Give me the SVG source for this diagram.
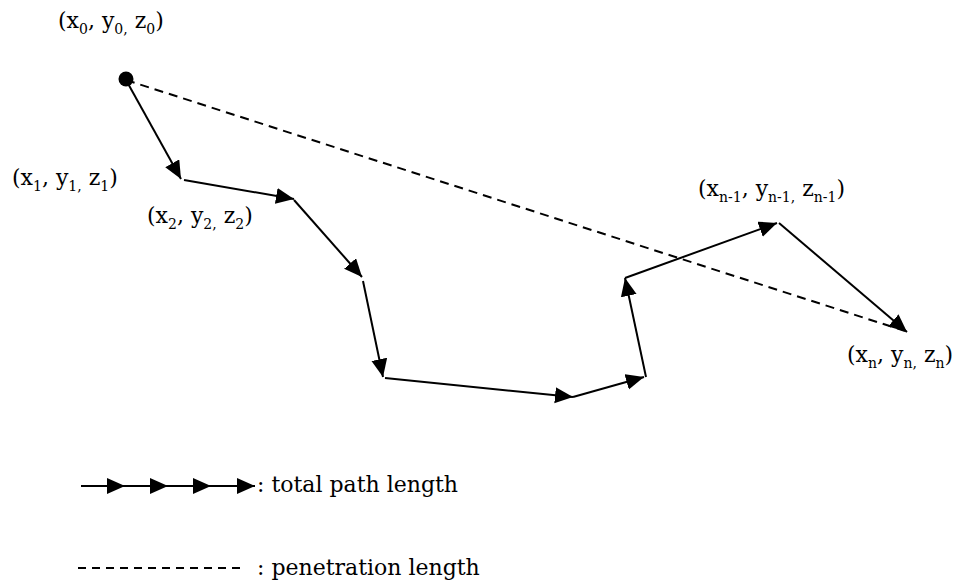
<svg xmlns="http://www.w3.org/2000/svg" width="957" height="585" viewBox="0 0 957 585">
<style>
.lbl{font-family:"DejaVu Serif","Liberation Serif",serif;font-size:22px;fill:#000}
.sub{font-size:14px}
.leg{font-family:"DejaVu Serif","Liberation Serif",serif;font-size:22px;fill:#000}
.seg{stroke:#000;stroke-width:2;fill:none;marker-end:url(#ah)}
.dash{stroke:#000;stroke-width:2;fill:none;stroke-dasharray:9 6}
</style>
<defs>
<marker id="ah" markerUnits="userSpaceOnUse" markerWidth="20" markerHeight="18" refX="18" refY="8" orient="auto">
<path d="M0,0 L18,8 L0,16 Z" fill="#000"/>
</marker>
</defs>
<g id="connectors">
<line class="dash" x1="126" y1="80" x2="905" y2="331"/>
<line class="seg" x1="126" y1="80" x2="181" y2="179"/>
<line class="seg" x1="184" y1="180" x2="294" y2="199"/>
<line class="seg" x1="294" y1="200" x2="362" y2="277"/>
<line class="seg" x1="363" y1="281" x2="383" y2="377"/>
<line class="seg" x1="385" y1="378" x2="573" y2="397"/>
<line class="seg" x1="573" y1="397" x2="644" y2="377"/>
<line class="seg" x1="646" y1="377" x2="625" y2="278"/>
<line class="seg" x1="625" y1="278" x2="777" y2="223"/>
<line class="seg" x1="779" y1="223" x2="907" y2="332"/>
</g>
<g id="p0">
<circle cx="126" cy="79" r="7.5" fill="#000"/>
<text class="lbl" x="58" y="28">(x<tspan class="sub" dy="6">0</tspan><tspan dy="-6">, y</tspan><tspan class="sub" dy="6">0,</tspan><tspan dy="-6"> z</tspan><tspan class="sub" dy="6">0</tspan><tspan dy="-6">)</tspan></text>
</g>
<g id="p1">
<text class="lbl" x="12" y="185">(x<tspan class="sub" dy="6">1</tspan><tspan dy="-6">, y</tspan><tspan class="sub" dy="6">1,</tspan><tspan dy="-6"> z</tspan><tspan class="sub" dy="6">1</tspan><tspan dy="-6">)</tspan></text>
</g>
<g id="p2">
<text class="lbl" x="147" y="223">(x<tspan class="sub" dy="6">2</tspan><tspan dy="-6">, y</tspan><tspan class="sub" dy="6">2,</tspan><tspan dy="-6"> z</tspan><tspan class="sub" dy="6">2</tspan><tspan dy="-6">)</tspan></text>
</g>
<g id="pn1">
<text class="lbl" x="698" y="196">(x<tspan class="sub" dy="6">n-1</tspan><tspan dy="-6">, y</tspan><tspan class="sub" dy="6">n-1,</tspan><tspan dy="-6"> z</tspan><tspan class="sub" dy="6">n-1</tspan><tspan dy="-6">)</tspan></text>
</g>
<g id="pn">
<text class="lbl" x="847" y="362">(x<tspan class="sub" dy="6">n</tspan><tspan dy="-6">, y</tspan><tspan class="sub" dy="6">n,</tspan><tspan dy="-6"> z</tspan><tspan class="sub" dy="6">n</tspan><tspan dy="-6">)</tspan></text>
</g>
<g id="legend">
<line class="seg" x1="81" y1="486" x2="125" y2="486"/>
<line class="seg" x1="125" y1="486" x2="168" y2="486"/>
<line class="seg" x1="168" y1="486" x2="211" y2="486"/>
<line class="seg" x1="211" y1="486" x2="255" y2="486"/>
<text class="leg" x="257" y="492">: total path length</text>
<line class="dash" x1="78" y1="568" x2="240" y2="568" style="stroke-dasharray:8 6"/>
<text class="leg" x="257" y="575">: penetration length</text>
</g>
</svg>
